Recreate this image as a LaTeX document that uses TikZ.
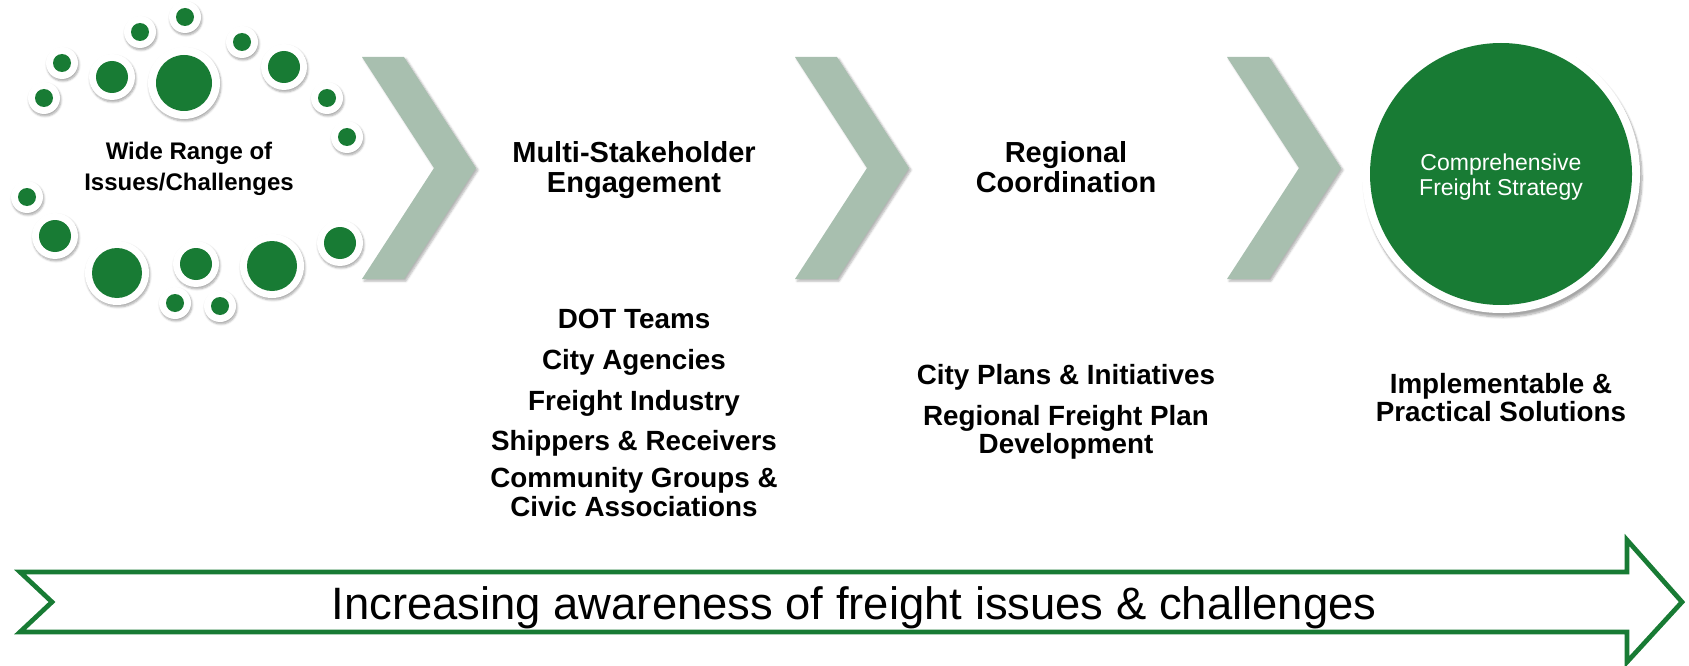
\documentclass[tikz,border=0pt]{standalone}
\usepackage{fontspec}
\setmainfont{Liberation Sans}
\usepackage{tikz}
\usetikzlibrary{shadows.blur}
\definecolor{fgreen}{RGB}{24,123,52}
\definecolor{chevgray}{RGB}{168,191,175}
\tikzset{
  dotring/.style={fill=white, blur shadow={shadow xshift=1pt, shadow yshift=-2pt, shadow blur steps=6, shadow opacity=35}},
  dotfill/.style={fill=fgreen},
  chevron/.style={fill=chevgray, blur shadow={shadow xshift=2pt, shadow yshift=-2pt, shadow blur steps=5, shadow opacity=30}},
  smalltext/.style={anchor=base, font=\fontsize{24}{28}\selectfont\bfseries},
  headtext/.style={anchor=base, font=\fontsize{29}{33}\selectfont\bfseries},
  itemtext/.style={anchor=base, font=\fontsize{27.8}{31}\selectfont\bfseries},
  circtext/.style={anchor=base, text=white, font=\fontsize{23}{26}\selectfont},
  bandtext/.style={anchor=base, font=\fontsize{45.4}{50}\selectfont},
}
\begin{document}
\begin{tikzpicture}[x=1pt,y=-1pt]
        \useasboundingbox (0,0) rectangle (1689,666);
        % cloud of issues
        \foreach \px/\py/\r/\w in {185/17/9/16, 140/32/9/16, 242/42/9/16, 62/63/9/16,
            112/77/16/23, 184/83/28/36, 284/67/16/23, 44/98/9/16, 327/98/9/16,
            347/137/9/16, 27/197/9/16, 55/236/16/23, 117/273/25/32, 196/264/16/23,
            272/266/25/32, 340/243/16/23, 175/303/9/16, 220/306/9/16}{
          \fill[dotring] (\px,\py) circle (\w pt);
          \fill[dotfill] (\px,\py) circle (\r pt);
        }
        %
        \foreach \dx in {0,433,865}{
          \fill[chevron] (362+\dx,57) -- (404+\dx,57) -- (476+\dx,168) -- (404+\dx,279)
            -- (362+\dx,279) -- (434+\dx,168) -- cycle;
        }
        %
        \fill[white, blur shadow={shadow xshift=2pt, shadow yshift=-4pt, shadow blur steps=8, shadow opacity=35}] (1501,174) circle (139pt);
        \fill[fgreen] (1501,174) circle (131pt);
        %
        \node[smalltext] (wide1) at (189,159) {Wide Range of};
        \node[smalltext] (wide2) at (189,190) {Issues/Challenges};
        \node[headtext] (multi1) at (634,163) {Multi-Stakeholder};
        \node[headtext] (multi2) at (634,192) {Engagement};
        \node[headtext] (reg1) at (1066,163) {Regional};
        \node[headtext] (reg2) at (1066,192) {Coordination};
        \node[circtext] (strat1) at (1501,170) {Comprehensive};
        \node[circtext] (strat2) at (1501,195) {Freight Strategy};
        %
        \node[itemtext] (dot) at (634,328) {DOT Teams};
        \node[itemtext] (city) at (634,369) {City Agencies};
        \node[itemtext] (industry) at (634,410) {Freight Industry};
        \node[itemtext] (shippers) at (634,450) {Shippers \& Receivers};
        \node[itemtext] (comm1) at (634,487) {Community Groups \&};
        \node[itemtext] (comm2) at (634,516) {Civic Associations};
        %
        \node[itemtext] (plans) at (1066,384) {City Plans \& Initiatives};
        \node[itemtext] (rfp1) at (1066,425) {Regional Freight Plan};
        \node[itemtext] (rfp2) at (1066,453) {Development};
        %
        \node[itemtext] (impl1) at (1501,393) {Implementable \&};
        \node[itemtext] (impl2) at (1501,421) {Practical Solutions};
        %
        \draw[fgreen, line width=4.7pt, line join=miter] (20,572) -- (1627,572) -- (1627,540)
          -- (1682,602) -- (1627,662) -- (1627,632) -- (20,632) -- (52,602) -- cycle;
        \node[bandtext] (band) at (854,619) {Increasing awareness of freight issues \& challenges};
\end{tikzpicture}
\end{document}
